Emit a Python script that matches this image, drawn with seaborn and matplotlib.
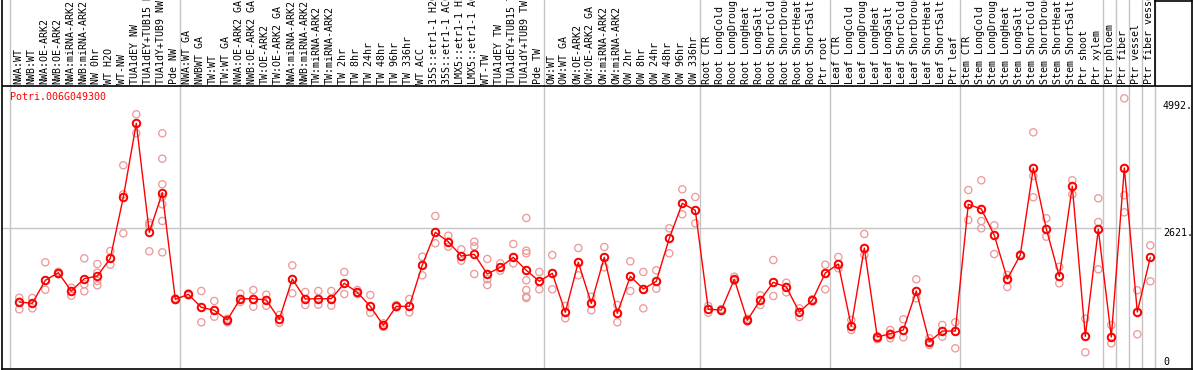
import numpy as np
import pandas as pd
import matplotlib
matplotlib.use("Agg")
import matplotlib.pyplot as plt
import seaborn as sns

gene_id = "Potri.006G049300"

categories = [
    "NWA:WT", "NWB:WT", "NWA:OE-ARK2", "NWB:OE-ARK2", "NWA:miRNA-ARK2", "NWB:miRNA-ARK2",
    "NW 0hr", "WT H2O", "WT-NW", "TUA1dEY NW", "TUA1dEY+TUB15 NW", "TUA1dY+TUB9 NW", "Pde NW",
    "NWA:WT GA", "NWBWT GA", "TW:WT", "TW:WT GA", "NWA:OE-ARK2 GA", "NWB:OE-ARK2 GA",
    "TW:OE-ARK2", "TW:OE-ARK2 GA", "NWA:miRNA-ARK2", "NWB:miRNA-ARK2", "TW:miRNA-ARK2",
    "TW:miRNA-ARK2", "TW 2hr", "TW 8hr", "TW 24hr", "TW 48hr", "TW 96hr", "TW 336hr",
    "WT ACC", "35S::etr1-1 H2O", "35S::etr1-1 ACC", "LMX5::etr1-1 H2O", "LMX5::etr1-1 ACC",
    "WT-TW", "TUA1dEY TW", "TUA1dEY+TUB15 TW", "TUA1dY+TUB9 TW", "Pde TW",
    "OW:WT", "OW:WT GA", "OW:OE-ARK2", "OW:OE-ARK2 GA", "OW:miRNA-ARK2", "OW:miRNA-ARK2",
    "OW 2hr", "OW 8hr", "OW 24hr", "OW 48hr", "OW 96hr", "OW 336hr",
    "Root CTR", "Root LongCold", "Root LongDrought", "Root LongHeat", "Root LongSalt",
    "Root ShortCold", "Root ShortDrought", "Root ShortHeat", "Root ShortSalt", "Ptr root",
    "Leaf CTR", "Leaf LongCold", "Leaf LongDrought", "Leaf LongHeat", "Leaf LongSalt",
    "Leaf ShortCold", "Leaf ShortDrought", "Leaf ShortHeat", "Leaf ShortSalt", "Ptr leaf",
    "Stem CTR", "Stem LongCold", "Stem LongDrought", "Stem LongHeat", "Stem LongSalt",
    "Stem ShortCold", "Stem ShortDrought", "Stem ShortHeat", "Stem ShortSalt", "Ptr shoot",
    "Ptr xylem", "Ptr phloem", "Ptr fiber", "Ptr vessel", "Ptr fiber vessel",
]

means = [
    1168, 1142, 1592, 1741, 1383, 1624, 1676, 2022, 3215, 4663,
    2531, 3306, 1220, 1318, 1064, 1005, 816, 1232, 1232, 1207,
    829, 1618, 1226, 1232, 1232, 1533, 1357, 1083, 712, 1083,
    1083, 1891, 2531, 2347, 2067, 2100, 1715, 1846, 2042, 1788,
    1573, 1729, 966, 1944, 1142, 2042, 947, 1670, 1422, 1573,
    2414, 3098, 2961, 1025, 1011, 1612, 810, 1207, 1553, 1461,
    972, 1201, 1735, 1911, 692, 2224, 483, 548, 620, 1383,
    391, 600, 600, 3079, 2987, 2472, 1618, 2087, 3789, 2596,
    1670, 3431, 497, 2590, 483, 3789, 972, 2042,
]

replicates = [
    [1252, 1175, 1025], [1246, 1142, 1044], [1944, 1592, 1408], [1760, 1710, 1741],
    [1447, 1383, 1291], [2022, 1514, 1377], [1911, 1741, 1578, 1494], [2165, 2022, 1897],
    [3842, 3274, 2512], [4839, 4663, 4468], [2719, 2674, 2159],
    [4468, 3971, 3470, 3227, 3079, 2752, 2139], [1240, 1220, 1205], [1338, 1318, 1299],
    [1383, 1064, 771], [1187, 1005, 880], [841, 802, 771], [1330, 1232, 1168],
    [1402, 1232, 1076], [1310, 1207, 1095], [913, 829, 763], [1885, 1618, 1338],
    [1363, 1226, 1109], [1383, 1232, 1115], [1383, 1232, 1096], [1755, 1533, 1324],
    [1402, 1357, 1324], [1305, 1083, 958], [751, 712, 685], [1109, 1083, 1064],
    [1226, 1083, 966], [2054, 1891, 1690], [2850, 2531, 2316], [2465, 2347, 2249],
    [2198, 2067, 1976], [2347, 2257, 1715], [2009, 1715, 1612, 1500], [1924, 1846, 1780],
    [2302, 2042, 1924], [2811, 2171, 2120, 1788, 1592, 1402, 1271, 1246],
    [1755, 1573, 1416], [2087, 1729, 1416], [1089, 966, 849], [2224, 1944, 1690],
    [1271, 1142, 1005], [2244, 2042, 1846], [1109, 947, 771], [1964, 1670, 1383],
    [1755, 1422, 1044], [1788, 1573, 1428], [2609, 2414, 2120], [3372, 3098, 2883],
    [3222, 2961, 2707], [1089, 1025, 958], [1030, 1011, 995], [1663, 1612, 1584],
    [841, 810, 790], [1299, 1207, 1109], [1989, 1553, 1285], [1545, 1461, 1357],
    [1044, 972, 874], [1220, 1201, 1181], [1897, 1735, 1416], [2048, 1911, 1827],
    [816, 692, 620], [2498, 2224, 2087], [500, 483, 440], [620, 548, 458],
    [829, 620, 477], [1612, 1383, 1240], [458, 391, 327], [718, 600, 489],
    [771, 600, 262], [3358, 3079, 2772], [3548, 2987, 2752, 2609], [2668, 2472, 2106],
    [1696, 1618, 1461], [2100, 2087, 2070], [4487, 3789, 3632, 3216], [2805, 2596, 2445],
    [1858, 1670, 1533], [3548, 3431, 3274], [841, 497, 184], [3196, 2733, 2590, 1807],
    [718, 483, 360], [5152, 3789, 3255, 2922], [1397, 972, 536], [2276, 2042, 1573],
]

ytick_values = [0, 2621, 4992]
ytick_labels = ["0", "2621.", "4992."]
group_ends = [12, 40, 52, 62, 72, 83, 84, 85, 86, 87]

# ---- data frames ----
pos = np.arange(len(categories))
mean_df = pd.DataFrame({"pos": pos, "value": means})
rep_df = pd.DataFrame(
    [(i, v) for i, reps in enumerate(replicates) for v in reps], columns=["pos", "value"]
)

sns.set_theme(style="white")
plt.rcParams["font.family"] = ["DejaVu Sans Mono", "DejaVu Sans"]

W, H = 1194, 370
fig = plt.figure(figsize=(W / 100, H / 100), dpi=100)
fig.patch.set_facecolor("white")

# pixel geometry helpers (layout only)
X0, DX = 19.3, 13.0            # px of first category, px per category
Y0, PXV = 361.7, 19.56         # px of value 0, value units per px
def px_to_i(px):
    return (px - X0) / DX
def py_to_v(py):
    return (Y0 - py) * PXV

left_px, right_px, bot_px = 1.5, 1191.5, 369.0
ax = fig.add_axes([left_px / W, (H - bot_px) / H, (right_px - left_px) / W, bot_px / H])
ax.set_facecolor("white")
ax.set_xlim(px_to_i(left_px), px_to_i(right_px))
ax.set_ylim(py_to_v(bot_px), py_to_v(0))
ax.set_xticks([])
ax.set_yticks([])
ax.set_xlabel("")
ax.set_ylabel("")
for s in ["left", "bottom", "right"]:
    ax.spines[s].set_visible(True)
    ax.spines[s].set_color("black")
    ax.spines[s].set_linewidth(1.2)
ax.spines["top"].set_visible(False)

grid_c = "#c4c4c4"
# separators
seps = [px_to_i(10)] + [e + 0.36 for e in group_ends]
for s in seps:
    ax.axvline(s, color=grid_c, lw=1, zorder=0)
label_line_v = py_to_v(86)
ax.vlines(group_ends[-1] + 0.36, label_line_v, py_to_v(0), color="black", lw=1.2, zorder=1)
ax.plot([group_ends[-1] + 0.36, px_to_i(right_px)], [py_to_v(0.5), py_to_v(0.5)],
        color="black", lw=1.2, clip_on=False)
ax.axhline(label_line_v, color="black", lw=1.2, zorder=1)
ax.hlines(2621, px_to_i(left_px), px_to_i(1161), color=grid_c, lw=1, zorder=0)

# replicates
rep_color = "#ec9a9a"
sns.scatterplot(data=rep_df, x="pos", y="value", ax=ax, marker="o", s=27,
                facecolor="none", edgecolor=rep_color, linewidth=0.95, legend=False, zorder=2)
coll = ax.collections[-1]
coll.set_facecolor("none")
coll.set_edgecolor(rep_color)

# means
sns.lineplot(data=mean_df, x="pos", y="value", ax=ax, color="red", linewidth=1.0,
             marker="o", markersize=5.4, markerfacecolor="none", markeredgecolor="red",
             markeredgewidth=1.4, errorbar=None, legend=False, zorder=3)
ax.set_xlabel("")
ax.set_ylabel("")

# category labels
lab_v = py_to_v(84)
for i, name in enumerate(categories):
    ax.text(i - 0.08, lab_v, name, rotation=90, ha="center", va="bottom",
            fontsize=7.2, color="black", clip_on=False)

# gene title
ax.text(px_to_i(10), py_to_v(97), gene_id, ha="left", va="center",
        fontsize=7.2, color="red")

# y labels on the right
for v, t in zip(ytick_values, ytick_labels):
    va = "top" if v == 2621 else "center"
    ax.text(px_to_i(1163), v, t, ha="left", va=va, fontsize=7.2, color="black")

fig.savefig("out.png", dpi=100)
